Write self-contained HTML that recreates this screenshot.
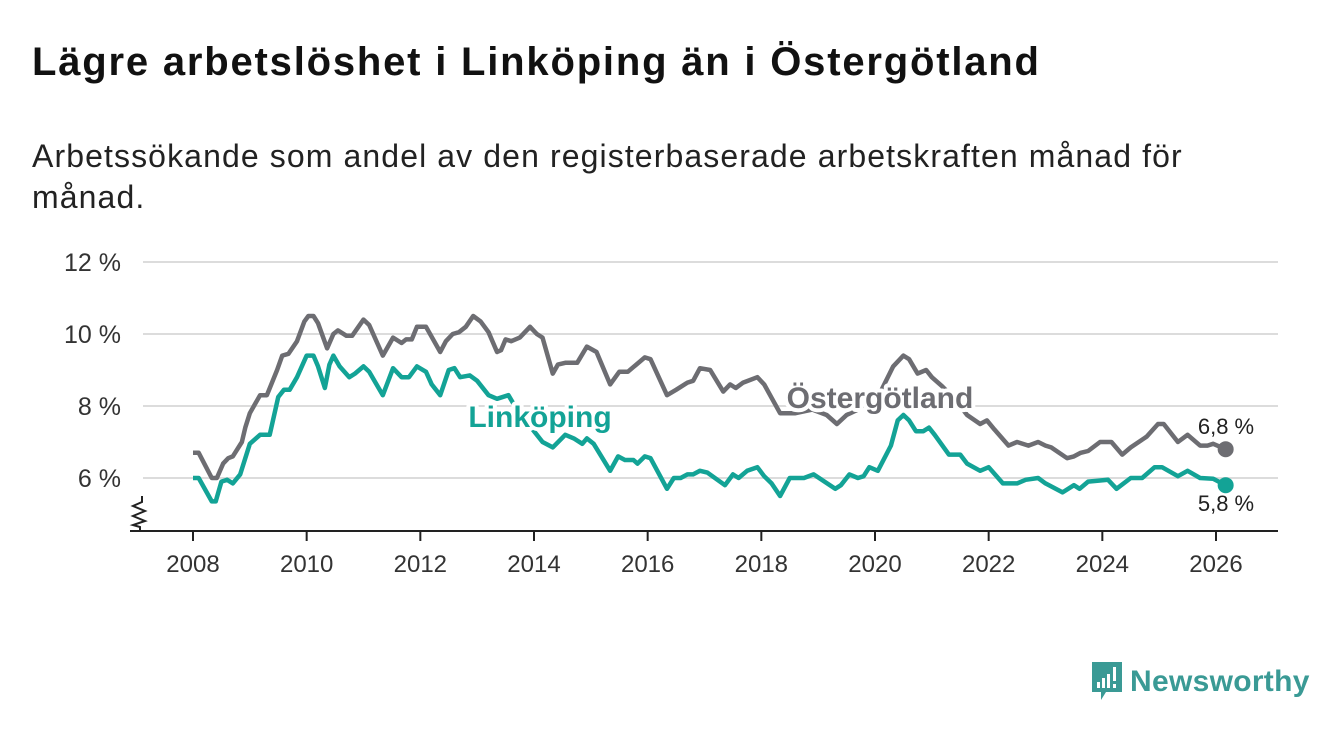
<!DOCTYPE html>
<html><head><meta charset="utf-8">
<style>
body{margin:0;background:#fff;width:1340px;height:734px;overflow:hidden;font-family:"Liberation Sans","DejaVu Sans",sans-serif;}
h1{position:absolute;left:32px;top:40px;margin:0;font-size:40px;font-weight:bold;color:#111;letter-spacing:1.8px;white-space:nowrap}
.sub{position:absolute;left:32px;top:136px;margin:0;font-size:32px;line-height:41px;color:#222;width:1200px;letter-spacing:1.1px}
svg{position:absolute;left:0;top:0}
</style></head><body>
<h1>Lägre arbetslöshet i Linköping än i Östergötland</h1>
<p class="sub">Arbetssökande som andel av den registerbaserade arbetskraften månad för månad.</p>
<svg id="chart" width="1340" height="734"></svg>
<div style="position:absolute;left:1089px;top:660px;height:44px;display:flex;align-items:center">
<svg width="36" height="44" style="position:static"><path d="M3 2h30v30h-16l-5 8v-8h-9z" fill="#3a9a95"/><rect x="8" y="22" width="3" height="6" fill="#fff"/><rect x="13" y="18" width="3" height="10" fill="#fff"/><rect x="18" y="14" width="3" height="14" fill="#fff"/><rect x="24" y="7" width="3" height="14" fill="#fff"/><rect x="24" y="24" width="3" height="4" fill="#fff"/></svg>
<span style="font-size:30px;color:#3a9a95;margin-left:5px;font-weight:bold;letter-spacing:0.3px">Newsworthy</span></div>
<script>
const gDates=[2008.0,2008.1,2008.33,2008.42,2008.53,2008.62,2008.7,2008.86,2008.92,2009.0,2009.18,2009.3,2009.48,2009.57,2009.68,2009.83,2009.96,2010.03,2010.12,2010.2,2010.36,2010.47,2010.55,2010.7,2010.8,2011.0,2011.1,2011.34,2011.52,2011.67,2011.75,2011.85,2011.94,2012.1,2012.35,2012.45,2012.57,2012.68,2012.8,2012.93,2013.06,2013.2,2013.35,2013.42,2013.5,2013.6,2013.75,2013.93,2014.05,2014.15,2014.33,2014.42,2014.55,2014.76,2014.93,2015.1,2015.34,2015.5,2015.65,2015.8,2015.95,2016.05,2016.34,2016.5,2016.7,2016.8,2016.92,2017.1,2017.33,2017.45,2017.55,2017.68,2017.93,2018.05,2018.19,2018.33,2018.6,2018.9,2019.15,2019.33,2019.5,2019.7,2019.9,2020.1,2020.32,2020.5,2020.6,2020.75,2020.9,2021.0,2021.18,2021.4,2021.62,2021.85,2021.97,2022.1,2022.35,2022.5,2022.7,2022.87,2023.0,2023.1,2023.38,2023.5,2023.62,2023.75,2023.96,2024.16,2024.35,2024.5,2024.78,2024.98,2025.08,2025.33,2025.5,2025.72,2025.85,2025.95,2026.17];
const gVals=[6.7,6.7,6.0,6.0,6.4,6.55,6.6,7.0,7.4,7.8,8.3,8.3,9.0,9.4,9.45,9.8,10.35,10.5,10.5,10.3,9.6,10.0,10.1,9.95,9.95,10.4,10.25,9.4,9.9,9.75,9.85,9.85,10.2,10.2,9.5,9.8,10.0,10.05,10.2,10.5,10.35,10.05,9.5,9.55,9.85,9.8,9.9,10.2,10.0,9.9,8.9,9.15,9.2,9.2,9.65,9.5,8.6,8.95,8.95,9.15,9.35,9.3,8.3,8.45,8.65,8.7,9.05,9.0,8.4,8.6,8.5,8.65,8.8,8.6,8.2,7.8,7.8,7.9,7.75,7.5,7.75,7.9,8.1,8.4,9.1,9.4,9.3,8.9,9.0,8.8,8.55,8.2,7.75,7.5,7.6,7.35,6.9,7.0,6.9,7.0,6.9,6.85,6.55,6.6,6.7,6.75,7.0,7.0,6.65,6.85,7.15,7.5,7.5,7.0,7.2,6.9,6.9,6.95,6.8];
const lDates=[2008.0,2008.1,2008.33,2008.4,2008.5,2008.6,2008.7,2008.83,2009.0,2009.18,2009.35,2009.5,2009.6,2009.7,2009.83,2010.0,2010.12,2010.2,2010.32,2010.4,2010.47,2010.58,2010.75,2010.85,2011.0,2011.1,2011.34,2011.52,2011.67,2011.8,2011.94,2012.1,2012.2,2012.35,2012.5,2012.6,2012.7,2012.87,2013.0,2013.2,2013.35,2013.55,2013.7,2013.85,2014.0,2014.15,2014.33,2014.55,2014.7,2014.85,2014.93,2015.05,2015.34,2015.48,2015.6,2015.75,2015.82,2015.95,2016.05,2016.34,2016.46,2016.58,2016.7,2016.8,2016.92,2017.05,2017.36,2017.5,2017.6,2017.75,2017.93,2018.05,2018.18,2018.33,2018.5,2018.75,2018.92,2019.3,2019.4,2019.55,2019.7,2019.8,2019.9,2020.05,2020.28,2020.4,2020.5,2020.6,2020.72,2020.85,2020.95,2021.05,2021.3,2021.5,2021.62,2021.85,2022.0,2022.25,2022.5,2022.65,2022.87,2023.0,2023.3,2023.5,2023.6,2023.75,2024.1,2024.25,2024.5,2024.7,2024.92,2025.05,2025.33,2025.5,2025.72,2025.95,2026.17];
const lVals=[6.0,6.0,5.35,5.35,5.9,5.95,5.85,6.1,6.95,7.2,7.2,8.25,8.45,8.45,8.8,9.4,9.4,9.1,8.5,9.15,9.4,9.1,8.8,8.9,9.1,8.95,8.3,9.05,8.8,8.8,9.1,8.95,8.6,8.3,9.0,9.05,8.8,8.85,8.7,8.3,8.2,8.3,7.9,7.6,7.3,7.0,6.85,7.2,7.1,6.95,7.1,6.95,6.2,6.6,6.5,6.5,6.4,6.6,6.55,5.7,6.0,6.0,6.1,6.1,6.2,6.15,5.8,6.1,6.0,6.2,6.3,6.05,5.85,5.5,6.0,6.0,6.1,5.7,5.8,6.1,6.0,6.05,6.3,6.2,6.9,7.6,7.75,7.6,7.3,7.3,7.4,7.2,6.65,6.65,6.4,6.2,6.3,5.85,5.85,5.95,6.0,5.85,5.6,5.8,5.7,5.9,5.95,5.7,6.0,6.0,6.3,6.3,6.05,6.2,6.0,5.98,5.8];
const yTicks=[6,8,10,12];
const xTicks=[2008,2010,2012,2014,2016,2018,2020,2022,2024,2026];
const NS='http://www.w3.org/2000/svg';
const svg=document.getElementById('chart');
const X=d=>193+(d-2008)*(1216-193)/18;
const Y=v=>478-(v-6)*36;
function mk(t,a){const e=document.createElementNS(NS,t);for(const k in a)e.setAttribute(k,a[k]);svg.appendChild(e);return e;}
yTicks.forEach(t=>{
 const l=mk('line',{x1:143,x2:1278,y1:Y(t),y2:Y(t),stroke:'#dcdcdc','stroke-width':2});
 
 
 const tx=mk('text',{x:121,y:Y(t)+9,'text-anchor':'end','font-size':25,fill:'#333'});
 tx.textContent=t+' %';
 
 
});
const ax=mk('line',{x1:130,x2:1278,y1:531,y2:531,stroke:'#222','stroke-width':2});


const zz=mk('path',{d:'M142 496 v6 l-9 4 l12 5 l-12 5 l12 5 l-12 4 l7 2 v4',fill:'none',stroke:'#222','stroke-width':2});


xTicks.forEach(t=>{
 const l=mk('line',{x1:X(t),x2:X(t),y1:531,y2:541,stroke:'#222','stroke-width':2});
 
 
 const tx=mk('text',{x:X(t),y:572,'text-anchor':'middle','font-size':24,fill:'#333'});
 tx.textContent=t;
 
 
});
function line(ds,vs,c,name){
 const p=mk('polyline',{points:ds.map((d,i)=>X(d)+','+Y(vs[i])).join(' '),fill:'none',stroke:c,'stroke-width':4.5,'stroke-linejoin':'round'});
 
 
 const n=ds.length-1;
 const dot=mk('circle',{cx:X(ds[n]),cy:Y(vs[n]),r:8,fill:c});
 
 
}
line(gDates,gVals,'#6d6d72','ostergotland');
line(lDates,lVals,'#13a396','linkoping');
function lab(x,y,txt,c,name,sz,bold,anchor){
 const t=mk('text',{x:x,y:y,'font-size':sz,'font-weight':bold?'bold':'normal',fill:c,'text-anchor':anchor||'start',stroke:bold?'#fff':'none','stroke-width':bold?8:0,'paint-order':'stroke','stroke-linejoin':'round'});
 t.textContent=txt;
 
 
}
lab(880,408,'Östergötland','#6d6d72','ostergotland-label',30,true,'middle');
lab(540,427,'Linköping','#13a396','linkoping-label',30,true,'middle');
lab(1226,434,'6,8 %','#222','ostergotland-end-value',22,false,'middle');
lab(1226,511,'5,8 %','#222','linkoping-end-value',22,false,'middle');
</script>
</body></html>
